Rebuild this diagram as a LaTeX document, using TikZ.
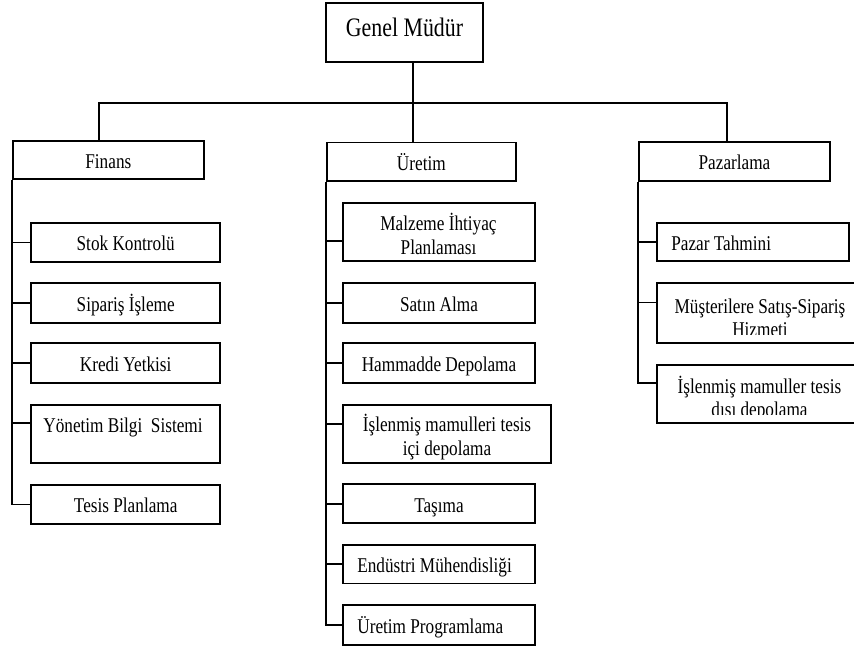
\documentclass[tikz,border=0pt]{standalone}
\usepackage{fontspec}
\setmainfont{Liberation Serif}[FakeStretch=0.82]
\begin{document}
\begin{tikzpicture}[x=0.75pt, y=-0.75pt,
  wire/.style={line width=1.3pt},
  orgbox/.style={draw, line width=1.3pt, inner sep=0pt,
    font=\fontsize{15.75}{17.5}\selectfont, text height=12.3pt, text depth=0pt},
  unitbox/.style={orgbox, minimum width=143.5pt, minimum height=29pt},
  taskbox/.style={orgbox, minimum width=143.5pt, minimum height=29.5pt},
  fintask/.style={taskbox, minimum width=141.75pt},
  tallbox/.style={orgbox, minimum height=43.7pt},
  lefttask/.style={taskbox, align=flush left, text width=122.5pt, inner xsep=#1},
  lefttask/.default=10.5pt,
  linetext/.style={font=\fontsize{15.75}{17.5}\selectfont, inner sep=0pt, anchor=base}]
\useasboundingbox (0,0) rectangle (854,647);

% top level
\node[orgbox, minimum width=118.2pt, minimum height=44.7pt,
      font=\fontsize{20}{22}\selectfont, text height=13.66pt, text depth=7.36pt]
      (gm) at (404.5,32.5) {Genel Müdür};

% departments
\node[unitbox] (fin) at (108.35,160) {Finans};
\node[unitbox, minimum width=142pt] (ure) at (421.35,161.85) {Üretim};
\node[unitbox] (paz) at (734.5,161.65) {Pazarlama};

% Finans units
\node[fintask] (stok) at (125.7,242.5) {Stok Kontrolü};
\node[fintask, minimum height=30pt] (sip) at (125.7,303) {Sipariş İşleme};
\node[fintask, minimum height=30pt] (kredi) at (125.7,363) {Kredi Yetkisi};
\node[tallbox, minimum width=141.75pt, minimum height=43.5pt] (ybs) at (125.7,434) {};
\node[linetext] (ybs1) at (123,432) {Yönetim Bilgi\ \ Sistemi};
\node[fintask] (tesis) at (125.7,504.5) {Tesis Planlama};

% Üretim units
\node[tallbox, minimum width=143.5pt] (mip) at (439,231.85) {};
\node[linetext] (mip1) at (438.5,230.7) {Malzeme İhtiyaç};
\node[linetext] (mip2) at (438.5,254) {Planlaması};
\node[taskbox, minimum height=30pt] (satin) at (439,303.3) {Satın Alma};
\node[taskbox, minimum height=30pt] (ham) at (439,363.3) {Hammadde Depolama};
\node[tallbox, minimum width=156pt] (isl) at (447.3,434.2) {};
\node[linetext] (isl1) at (447,431.7) {İşlenmiş mamulleri tesis};
\node[linetext] (isl2) at (447,455) {içi depolama};
\node[taskbox, minimum height=29.25pt] (tas) at (439,503.8) {Taşıma};
\node[lefttask, minimum height=28.75pt] (end) at (439,564.2) {Endüstri Mühendisliği};
\node[lefttask, minimum height=30pt] (upr) at (439,625) {Üretim Programlama};

% Pazarlama units
\node[lefttask=11pt, minimum height=28.7pt] (pt) at (753,241.85) {Pazar Tahmini};
\node[tallbox, minimum width=157.5pt, minimum height=44.5pt] (mus) at (762,313) {};
\node[tallbox, minimum width=157.5pt] (isd) at (762,394.2) {};
\begin{scope}
  \clip (650,285) rectangle (860,334);
  \node[linetext] (mus1) at (760,313) {Müşterilere Satış-Sipariş};
  \node[linetext] (mus2) at (760,336) {Hizmeti};
\end{scope}
\begin{scope}
  \clip (650,367) rectangle (860,414);
  \node[linetext] (isd1) at (759.5,393) {İşlenmiş mamuller tesis};
  \node[linetext] (isd2) at (759.5,416) {dışı depolama};
\end{scope}

% connectors from the top
\coordinate (gmout) at ([xshift=6.6pt]gm.south);
\coordinate (bus) at (413.3,102.7);
\draw[wire] (gmout) -- (gmout |- ure.north);
\draw[wire] ([xshift=-7pt]fin.north) |- (bus) -| ([xshift=-5.85pt]paz.north);

% Finans branch
\foreach \c in {stok,sip,kredi,tesis}
  \draw[wire] (fin.south west) |- (\c.west);
\draw[wire] (fin.south west) |- ([yshift=-14.25pt]ybs.north west);

% Üretim branch
\foreach \c in {satin,ham,tas,end,upr}
  \draw[wire] (ure.south west) |- (\c.west);
\draw[wire] (ure.south west) |- ([yshift=-29.25pt]mip.north west);
\draw[wire] (ure.south west) |- ([yshift=-15pt]isl.north west);

% Pazarlama branch
\draw[wire] (paz.south west) |- (pt.west);
\draw[wire] (paz.south west) |- ([yshift=-15pt]mus.north west);
\draw[wire] (paz.south west) |- ([yshift=-14.25pt]isd.north west);
\end{tikzpicture}
\end{document}
